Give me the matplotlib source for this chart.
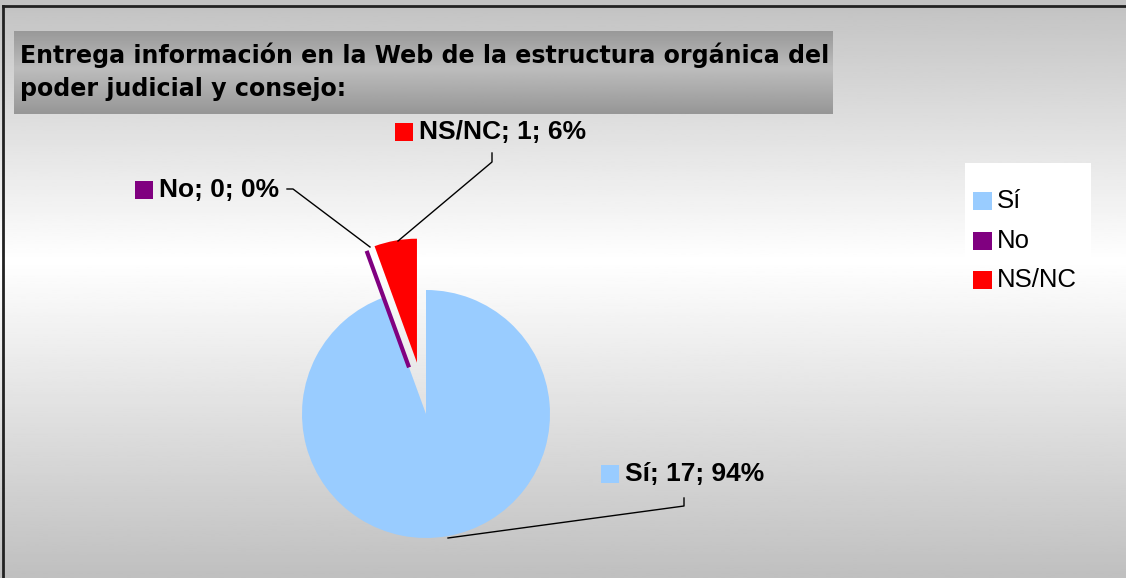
import matplotlib
matplotlib.use('Agg')
import matplotlib.pyplot as plt
import numpy as np
from matplotlib.patches import Rectangle

W, H = 1126, 578

title = 'Entrega información en la Web de la estructura orgánica del\npoder judicial y consejo:'
categories = ['Sí', 'No', 'NS/NC']
counts = [17, 0, 1]
percents = [94, 0, 6]
colors = ['#99CCFF', '#800080', '#FF0000']


def Y(ypx):
    # pixel row (from top) -> data y (from bottom)
    return H - ypx


fig = plt.figure(figsize=(W / 100, H / 100), dpi=100)
ax = fig.add_axes([0, 0, 1, 1])

# chart area background: gray -> white -> gray
shade = np.interp(np.linspace(0, 1, 300), [0.0, 0.45, 1.0], [0.76, 1.0, 0.75])
ax.imshow(shade[:, None], cmap='gray', vmin=0, vmax=1,
          extent=(0, W, 0, H), aspect='auto', zorder=0)
ax.plot([3, 3], [0, Y(6)], color='#222222', lw=2, zorder=1)
ax.plot([3, W], [Y(6), Y(6)], color='#222222', lw=2, zorder=1)

# title band
tshade = np.interp(np.linspace(0, 1, 100), [0.0, 0.45, 1.0], [0.60, 0.74, 0.59])
ax.imshow(tshade[:, None], cmap='gray', vmin=0, vmax=1,
          extent=(14, 833, Y(114), Y(31)), aspect='auto', zorder=1)
ttl = ax.text(20, Y(72), title, fontsize=17, fontweight='bold', family='DejaVu Sans',
              va='center', ha='left', linespacing=1.45, zorder=2)
fig.canvas.draw()
bb = ttl.get_window_extent()
ttl.set_fontsize(17 * 810 / bb.width)

# pie (explode is in data units here, radius in pixels)
radius = 124
wedges, _ = ax.pie(counts, colors=colors, startangle=90, counterclock=False,
                   explode=[0.0, 0.40 * radius, 0.42 * radius], center=(426, Y(414)),
                   radius=radius, wedgeprops=dict(linewidth=0))
wedges[1].set_edgecolor(colors[1])
wedges[1].set_linewidth(3)
for w in wedges:
    w.set_zorder(3)

# data labels with leader lines
label_pos = [(625, 474), (159, 190), (419, 132)]
leaders = [
    [(448, 538), (684, 506), (684, 498)],
    [(287, 189), (293, 189), (370, 247)],
    [(492, 153), (492, 162), (398, 241)],
]
for cat, n, p, col, (lx, ly), pts in zip(categories, counts, percents, colors, label_pos, leaders):
    ax.text(lx, Y(ly), f'{cat}; {n}; {p}%', fontsize=19, fontweight='bold',
            family='Liberation Sans', va='center', ha='left', zorder=4)
    ax.add_patch(Rectangle((lx - 24, Y(ly) - 9), 18, 18, facecolor=col, edgecolor='none', zorder=4))
    xs, ys = zip(*pts)
    ax.plot(xs, [Y(v) for v in ys], color='black', lw=1, zorder=4)

# legend
ax.add_patch(Rectangle((965, Y(258)), 126, 95, facecolor='white', edgecolor='none', zorder=2))
for i, (cat, col) in enumerate(zip(categories, colors)):
    yc = Y(201 + 39.5 * i)
    ax.add_patch(Rectangle((973, yc - 9), 19, 18, facecolor=col, edgecolor='none', zorder=4))
    ax.text(997, yc, cat, fontsize=18.5, family='Liberation Sans', va='center', ha='left', zorder=4)

ax.set_xlim(0, W)
ax.set_ylim(0, H)
ax.set_aspect('auto')
ax.axis('off')
fig.savefig('out.png', dpi=100)
